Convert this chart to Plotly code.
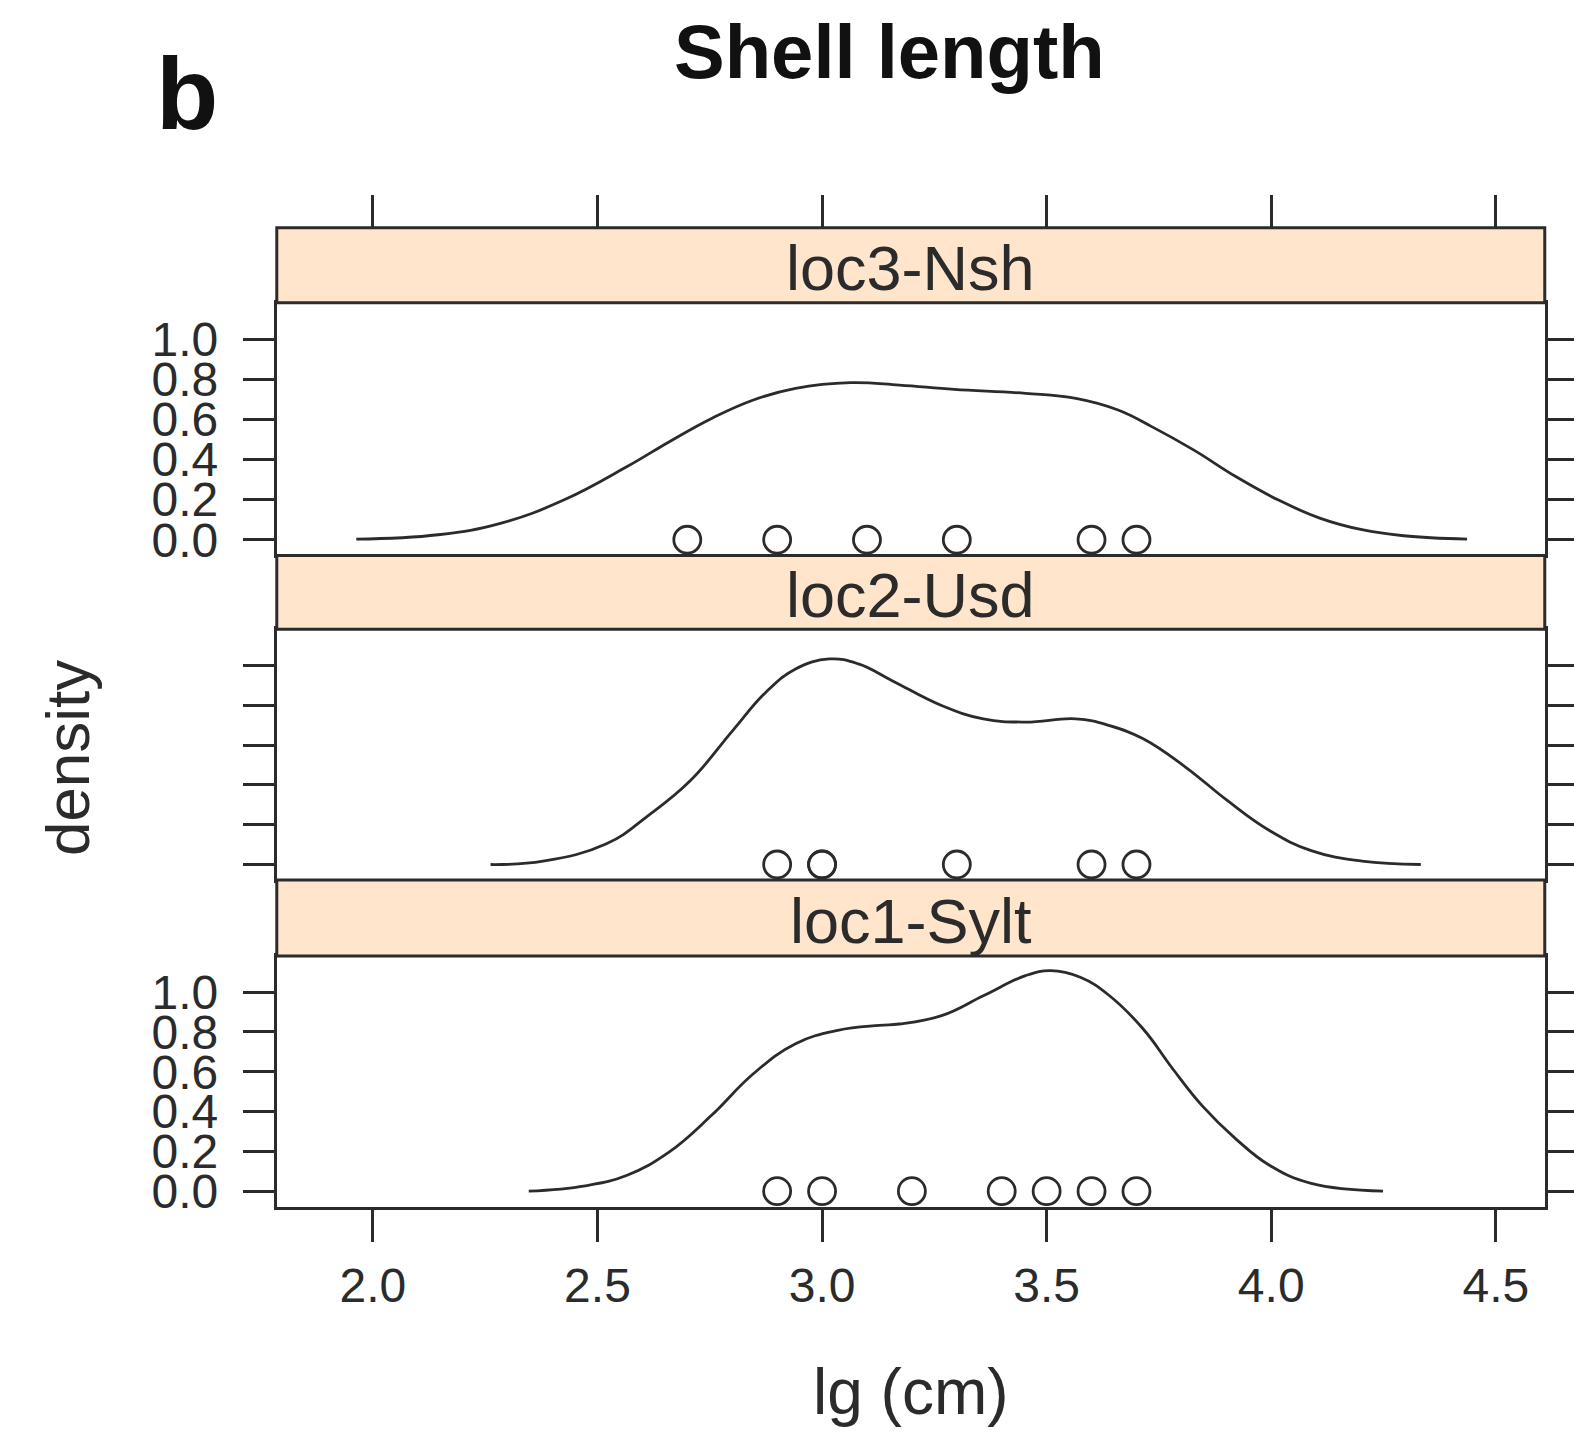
import plotly.graph_objects as go

# ---------------- data ----------------
panels = ["loc1-Sylt", "loc2-Usd", "loc3-Nsh"]

loc1_pts = [2.9, 3.0, 3.2, 3.4, 3.5, 3.6, 3.7]
loc2_pts = [2.9, 3.0, 3.0, 3.3, 3.6, 3.7]
loc3_pts = [2.7, 2.9, 3.1, 3.3, 3.6, 3.7]

loc1_dx = [2.347, 2.473, 2.566, 2.660, 2.754, 2.847, 2.941, 3.035, 3.128, 3.172, 3.266, 3.359,
           3.453, 3.509, 3.575, 3.640, 3.715, 3.781, 3.846, 3.921, 3.996, 4.089, 4.249]
loc1_dy = [0.0, 0.027, 0.080, 0.197, 0.381, 0.590, 0.741, 0.808, 0.833, 0.840, 0.882, 0.982,
           1.083, 1.108, 1.075, 0.982, 0.815, 0.614, 0.430, 0.263, 0.130, 0.039, 0.0]

loc2_dx = [2.262, 2.379, 2.520, 2.613, 2.707, 2.801, 2.875, 2.941, 3.016, 3.081, 3.156, 3.266,
           3.359, 3.453, 3.565, 3.640, 3.715, 3.809, 3.902, 3.996, 4.089, 4.202, 4.333]
loc2_dy = [0.0, 0.017, 0.104, 0.246, 0.422, 0.673, 0.866, 0.983, 1.033, 1.008, 0.924, 0.799,
           0.732, 0.716, 0.732, 0.698, 0.632, 0.490, 0.322, 0.171, 0.070, 0.017, 0.0]

loc3_dx = [1.963, 2.145, 2.286, 2.426, 2.566, 2.660, 2.754, 2.847, 2.941, 3.063, 3.172, 3.294,
           3.453, 3.565, 3.659, 3.734, 3.827, 3.921, 4.015, 4.108, 4.202, 4.295, 4.436]
loc3_dy = [0.003, 0.025, 0.083, 0.199, 0.365, 0.489, 0.605, 0.697, 0.755, 0.783, 0.771, 0.750,
           0.730, 0.705, 0.647, 0.564, 0.448, 0.315, 0.199, 0.108, 0.050, 0.020, 0.003]

x_ticks = [2.0, 2.5, 3.0, 3.5, 4.0, 4.5]
x_ticktext = ["2.0", "2.5", "3.0", "3.5", "4.0", "4.5"]
y_ticks = [0.0, 0.2, 0.4, 0.6, 0.8, 1.0]
y_ticktext = ["0.0", "0.2", "0.4", "0.6", "0.8", "1.0"]

title_text = "Shell length"
panel_letter = "b"
x_label = "lg (cm)"
y_label = "density"

# ---------------- layout geometry (target page pixels) ----------------
# the captured picture comes out slightly shrunk; compensate so positions land on target
SX, SY = 0.997, 0.9935
W, H = 1579, 1451
def px(X):
    return (X / SX) / W
def py(Y):
    return 1 - (Y / SY) / H

FONT = "Liberation Sans, Arial, Helvetica, sans-serif"
INK = "#2b2b2b"
STRIP_FILL = "#FFE5CC"
LW = 3

xdom = [px(277), px(1546)]
xrange_ = [1.786, 4.609]
yrange_ = [-0.078, 1.182]

# (panel y-span, strip top, strip bottom), bottom-to-top order
geom = [
    ((1208, 957), 881, 957),   # loc1
    ((881, 630), 556, 630),    # loc2
    ((556, 303), 228, 303),    # loc3
]

series = [
    (loc1_dx, loc1_dy, loc1_pts),
    (loc2_dx, loc2_dy, loc2_pts),
    (loc3_dx, loc3_dy, loc3_pts),
]

fig = go.Figure()

for i, (dx, dy, pts) in enumerate(series):
    sfx = "" if i == 0 else str(i + 1)
    fig.add_trace(go.Scatter(
        x=dx, y=dy, mode="lines", line=dict(color=INK, width=2.8, shape="spline", smoothing=1.2),
        xaxis="x" + sfx, yaxis="y" + sfx, showlegend=False, hoverinfo="skip"))
    fig.add_trace(go.Scatter(
        x=pts, y=[0.0] * len(pts), mode="markers",
        marker=dict(symbol="circle-open", size=27, color=INK, line=dict(width=2.8, color=INK)),
        xaxis="x" + sfx, yaxis="y" + sfx, showlegend=False, hoverinfo="skip"))

# invisible trace for the top tick axis
fig.add_trace(go.Scatter(x=[x_ticks[0]], y=[0.0], mode="markers", marker=dict(opacity=0),
                         xaxis="x4", yaxis="y3", showlegend=False, hoverinfo="skip"))

layout = dict(
    width=W, height=H, margin=dict(l=0, r=0, t=0, b=0),
    paper_bgcolor="white", plot_bgcolor="white",
    font=dict(family=FONT, color=INK),
    showlegend=False,
)

tickfont = dict(family=FONT, size=48, color=INK)

for i in range(3):
    sfx = "" if i == 0 else str(i + 1)
    (yb, yt), _, _ = geom[i]
    xa = dict(
        domain=xdom, range=xrange_, anchor="y" + sfx,
        showline=True, linewidth=LW, linecolor=INK, mirror=True,
        showgrid=False, zeroline=False,
        tickmode="array", tickvals=x_ticks, ticktext=x_ticktext,
        ticks="outside" if i == 0 else "", ticklen=32, tickwidth=LW, tickcolor=INK,
        showticklabels=(i == 0), tickfont=tickfont, ticklabelstandoff=3,
    )
    ya = dict(
        domain=[py(yb), py(yt)], range=yrange_, anchor="x" + sfx,
        showline=True, linewidth=LW, linecolor=INK, mirror="ticks",
        showgrid=False, zeroline=False,
        tickmode="array", tickvals=y_ticks, ticktext=y_ticktext,
        ticks="outside", ticklen=31, tickwidth=LW, tickcolor=INK,
        showticklabels=(i != 1), tickfont=tickfont, ticklabelstandoff=15,
    )
    layout["xaxis" + sfx] = xa
    layout["yaxis" + sfx] = ya

layout["xaxis4"] = dict(
    domain=xdom, range=xrange_, overlaying="x3", anchor="free", position=py(228), side="top",
    showline=False, showgrid=False, zeroline=False,
    tickmode="array", tickvals=x_ticks, ticks="outside", ticklen=33, tickwidth=LW,
    tickcolor=INK, showticklabels=False,
)

shapes = []
annotations = []
for i, name in enumerate(panels):
    _, st, sb = geom[i]
    shapes.append(dict(type="rect", xref="paper", yref="paper",
                       x0=xdom[0], x1=xdom[1], y0=py(sb), y1=py(st),
                       fillcolor=STRIP_FILL, line=dict(color=INK, width=LW), layer="above"))
    annotations.append(dict(text=name, xref="paper", yref="paper",
                            x=(xdom[0] + xdom[1]) / 2, y=py((st + sb) / 2 + 3),
                            xanchor="center", yanchor="middle", showarrow=False,
                            font=dict(family=FONT, size=63, color=INK)))

annotations += [
    dict(text="<b>%s</b>" % title_text, xref="paper", yref="paper", x=px(890), y=py(52),
         xanchor="center", yanchor="middle", showarrow=False,
         font=dict(family=FONT, size=76, color="#111")),
    dict(text="<b>%s</b>" % panel_letter, xref="paper", yref="paper", x=px(154), y=py(94),
         xanchor="left", yanchor="middle", showarrow=False,
         font=dict(family=FONT, size=102, color="#111")),
    dict(text=x_label, xref="paper", yref="paper", x=px(912), y=py(1394),
         xanchor="center", yanchor="middle", showarrow=False,
         font=dict(family=FONT, size=64, color=INK)),
    dict(text=y_label, xref="paper", yref="paper", x=px(67), y=py(759), textangle=-90,
         xanchor="center", yanchor="middle", showarrow=False,
         font=dict(family=FONT, size=62, color=INK)),
]

layout["shapes"] = shapes
layout["annotations"] = annotations
fig.update_layout(**layout)

# remove the default page margin so the figure sits at the window's top-left corner
page_js = ("document.documentElement.style.margin='0';document.body.style.margin='0';"
           "document.documentElement.style.overflow='hidden';document.body.style.overflow='hidden';")

fig.write_html("out.html", post_script=page_js, config={"displayModeBar": False})
